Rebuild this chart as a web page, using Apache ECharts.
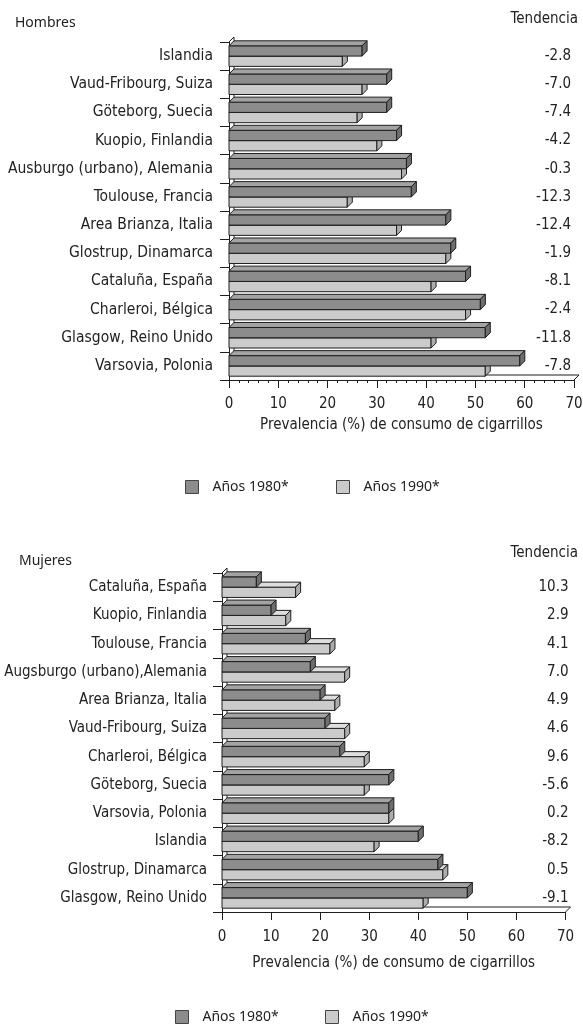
<!DOCTYPE html>
<html>
<head>
<meta charset="utf-8">
<script src="https://cdn.jsdelivr.net/npm/echarts@6/dist/echarts.min.js"></script>
<style>
html,body{margin:0;padding:0;background:#fff;}
#chart{width:583px;height:1028px;}
</style>
</head>
<body>
<div id="chart"></div>
<script>
// ---- data ----
const catsH = ['Islandia','Vaud-Fribourg, Suiza','Göteborg, Suecia','Kuopio, Finlandia','Ausburgo (urbano), Alemania','Toulouse, Francia','Area Brianza, Italia','Glostrup, Dinamarca','Cataluña, España','Charleroi, Bélgica','Glasgow, Reino Unido','Varsovia, Polonia'];
const h1980 = [27,32,32,34,36,37,44,45,48,51,52,59];
const h1990 = [23,27,26,30,35,24,34,44,41,48,41,52];
const trendH = ['-2.8','-7.0','-7.4','-4.2','-0.3','-12.3','-12.4','-1.9','-8.1','-2.4','-11.8','-7.8'];

const catsM = ['Cataluña, España','Kuopio, Finlandia','Toulouse, Francia','Augsburgo (urbano),Alemania','Area Brianza, Italia','Vaud-Fribourg, Suiza','Charleroi, Bélgica','Göteborg, Suecia','Varsovia, Polonia','Islandia','Glostrup, Dinamarca','Glasgow, Reino Unido'];
const m1980 = [7,10,17,18,20,21,24,34,34,40,44,50];
const m1990 = [15,13,22,25,23,25,29,29,34,31,45,41];
const trendM = ['10.3','2.9','4.1','7.0','4.9','4.6','9.6','-5.6','0.2','-8.2','0.5','-9.1'];

const xTicks = [0,10,20,30,40,50,60,70];
const seriesNames = ['Años 1980*','Años 1990*'];

// ---- style ----
const COND = '"Liberation Sans Narrow","DejaVu Sans Condensed",sans-serif';
const REG = '"Noto Sans","Open Sans",sans-serif';
const D = 5;
const cols = {
  dark: {front:'#8c8c8c', top:'#a3a3a3', side:'#6e6e6e'},
  light:{front:'#cbcbcb', top:'#dedede', side:'#adadad'}
};

function bar3d(kind){
  const c = cols[kind];
  return function(params, api){
    const v = api.value(0), idx = api.value(1);
    const p0 = api.coord([0, idx]);
    const p1 = api.coord([v, idx]);
    const band = api.size([0,1])[1];
    const h = band*0.365;
    const yT = kind==='dark' ? p0[1]-h : p0[1];
    const x0 = p0[0], x1 = p1[0];
    const st = {stroke:'#1e1e1e', lineWidth:1};
    return {type:'group', children:[
      {type:'rect', shape:{x:x0, y:yT, width:x1-x0, height:h}, style:Object.assign({fill:c.front}, st)},
      {type:'polygon', shape:{points:[[x0,yT],[x1,yT],[x1+D,yT-D],[x0+D,yT-D]]}, style:Object.assign({fill:c.top}, st)},
      {type:'polygon', shape:{points:[[x1,yT],[x1+D,yT-D],[x1+D,yT+h-D],[x1,yT+h]]}, style:Object.assign({fill:c.side}, st)}
    ]};
  };
}
function frame(params, api){
  const cs = params.coordSys;
  const x=cs.x, y=cs.y, w=cs.width, h=cs.height;
  const st = {stroke:'#1e1e1e', lineWidth:1, fill:null};
  return {type:'group', children:[
    {type:'line', shape:{x1:x+D, y1:y+h-D, x2:x+w+D, y2:y+h-D}, style:st},
    {type:'line', shape:{x1:x+w, y1:y+h, x2:x+w+D, y2:y+h-D}, style:st},
    {type:'line', shape:{x1:x, y1:y, x2:x+D, y2:y-D}, style:st},
    {type:'line', shape:{x1:x+D, y1:y-D, x2:x+D, y2:y+h-D}, style:st}
  ]};
}

const grids = [
  {left:229, top:42, width:345, height:338, containLabel:false, outerBoundsMode:'none'},
  {left:222, top:573, width:343.5, height:339, containLabel:false, outerBoundsMode:'none'}
];

function xAxis(gi, minor, nameGap, margin){
  return {
    type:'value', gridIndex:gi, min:0, max:70, interval:10,
    axisLine:{show:true, lineStyle:{color:'#1e1e1e', width:1}},
    axisTick:{show:true, length:8, lineStyle:{color:'#1e1e1e'}},
    minorTick:{show:minor, splitNumber:5, length:3, lineStyle:{color:'#1e1e1e'}},
    splitLine:{show:false},
    axisLabel:{margin:margin, fontFamily:COND, fontSize:15, color:'#222',
      formatter: v => xTicks.indexOf(v) >= 0 ? String(v) : ''},
    name:'Prevalencia (%) de consumo de cigarrillos', nameLocation:'middle', nameGap:nameGap,
    nameTextStyle:{fontFamily:COND, fontSize:15, color:'#222'}
  };
}
function yAxis(gi, cats, margin, fs){
  return {
    type:'category', gridIndex:gi, data:cats, inverse:true,
    axisLine:{show:true, lineStyle:{color:'#1e1e1e', width:1}},
    axisTick:{show:true, length:9, lineStyle:{color:'#1e1e1e'}},
    axisLabel:{margin:margin, fontFamily:COND, fontSize:fs, color:'#222'}
  };
}
function yAxisTrend(gi, cats, trend, margin){
  return {
    type:'category', gridIndex:gi, data:cats, inverse:true, position:'right',
    axisLine:{show:false}, axisTick:{show:false},
    axisLabel:{margin:margin, align:'right', fontFamily:COND, fontSize:15, color:'#222',
      formatter:(val, i) => trend[i]}
  };
}

function legendItem(name, left, top, kind){
  return {
    left:left, top:top, icon:'rect', itemWidth:13, itemHeight:13,
    data:[{name:name, itemStyle:{color:cols[kind].front, borderColor:'#444', borderWidth:1}}],
    textStyle:{fontFamily:REG, fontSize:14, color:'#222', padding:[0,0,0,9]},
    selectedMode:false
  };
}

const chart = echarts.init(document.getElementById('chart'), null, {renderer:'canvas'});
chart.setOption({
  animation:false,
  backgroundColor:'#fff',
  title:[
    {text:'Hombres', left:10, top:11, textStyle:{fontFamily:REG, fontSize:14, fontWeight:'normal', color:'#222'}},
    {text:'Tendencia', right:0, top:7, textStyle:{fontFamily:COND, fontSize:15, fontWeight:'normal', color:'#222'}},
    {text:'Mujeres', left:14, top:549, textStyle:{fontFamily:REG, fontSize:14, fontWeight:'normal', color:'#222'}},
    {text:'Tendencia', right:0, top:541, textStyle:{fontFamily:COND, fontSize:15, fontWeight:'normal', color:'#222'}}
  ],
  legend:[
    legendItem(seriesNames[0], 180, 475, 'dark'),
    legendItem(seriesNames[1], 331, 475, 'light'),
    legendItem(seriesNames[0], 170, 1005, 'dark'),
    legendItem(seriesNames[1], 320, 1005, 'light')
  ],
  grid: grids,
  xAxis:[xAxis(0, true, 38, 17), xAxis(1, false, 44, 18)],
  yAxis:[yAxis(0, catsH, 16, 15.5), yAxisTrend(0, catsH, trendH, -3), yAxis(1, catsM, 15, 15), yAxisTrend(1, catsM, trendM, 3)],
  series:[
    {type:'custom', xAxisIndex:0, yAxisIndex:0, renderItem:frame, data:[[0,0]], z:1, silent:true},
    {type:'custom', name:seriesNames[1], xAxisIndex:0, yAxisIndex:0, renderItem:bar3d('light'), z:2,
      itemStyle:{color:cols.light.front}, encode:{x:0, y:1}, data:h1990.map((v,i)=>[v,i])},
    {type:'custom', name:seriesNames[0], xAxisIndex:0, yAxisIndex:0, renderItem:bar3d('dark'), z:3,
      itemStyle:{color:cols.dark.front}, encode:{x:0, y:1}, data:h1980.map((v,i)=>[v,i])},
    {type:'custom', xAxisIndex:1, yAxisIndex:2, renderItem:frame, data:[[0,0]], z:1, silent:true},
    {type:'custom', name:seriesNames[1], xAxisIndex:1, yAxisIndex:2, renderItem:bar3d('light'), z:2,
      itemStyle:{color:cols.light.front}, encode:{x:0, y:1}, data:m1990.map((v,i)=>[v,i])},
    {type:'custom', name:seriesNames[0], xAxisIndex:1, yAxisIndex:2, renderItem:bar3d('dark'), z:3,
      itemStyle:{color:cols.dark.front}, encode:{x:0, y:1}, data:m1980.map((v,i)=>[v,i])}
  ]
});
</script>
</body>
</html>
